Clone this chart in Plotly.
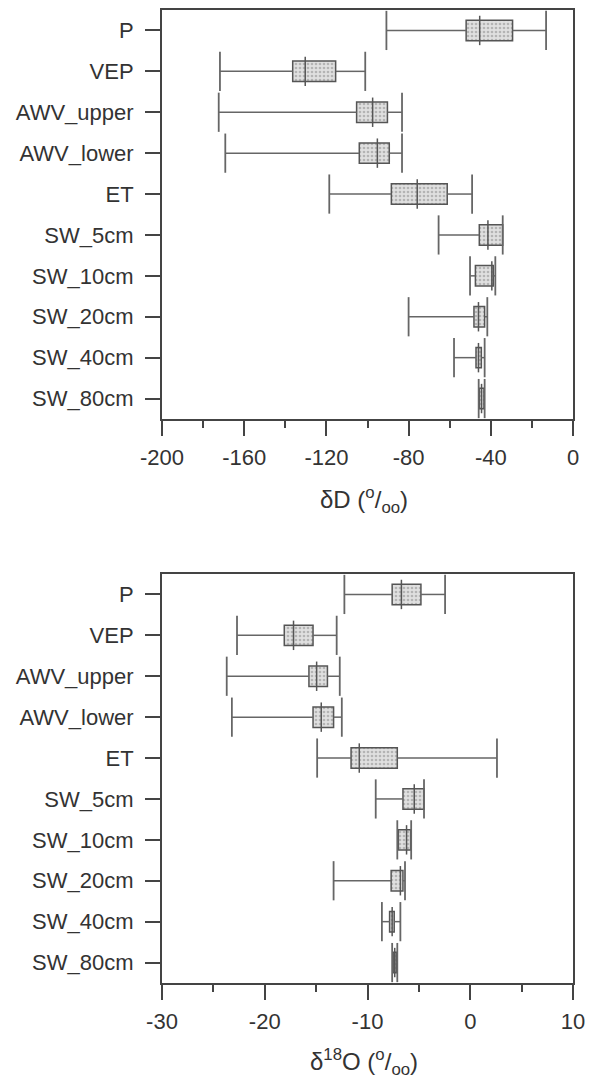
import plotly.graph_objects as go

categories = ["P", "VEP", "AWV_upper", "AWV_lower", "ET",
              "SW_5cm", "SW_10cm", "SW_20cm", "SW_40cm", "SW_80cm"]

# deltaD (per mil)
dD_low  = [-90.8, -171.8, -172.4, -169.2, -118.6, -65.4, -50.1, -80.0, -57.9, -45.9]
dD_q1   = [-52.0, -136.4, -105.3, -104.0, -88.4, -45.6, -47.5, -48.2, -47.2, -45.6]
dD_med  = [-45.4, -130.3, -97.5, -95.2, -75.8, -41.4, -39.5, -46.0, -46.0, -44.5]
dD_q3   = [-29.4, -115.5, -90.3, -89.4, -61.2, -34.2, -38.8, -43.0, -44.6, -43.3]
dD_high = [-13.1, -101.1, -83.2, -83.2, -49.1, -34.2, -37.8, -41.7, -43.0, -43.0]

# delta18O (per mil)
dO_low  = [-12.25, -22.7, -23.7, -23.2, -14.9, -9.2, -7.1, -13.3, -8.6, -7.6]
dO_q1   = [-7.6, -18.1, -15.7, -15.3, -11.6, -6.55, -7.0, -7.7, -7.85, -7.5]
dO_med  = [-6.7, -17.2, -14.95, -14.5, -10.8, -5.45, -6.2, -6.8, -7.6, -7.35]
dO_q3   = [-4.8, -15.3, -13.9, -13.3, -7.1, -4.5, -5.8, -6.55, -7.4, -7.2]
dO_high = [-2.45, -13.0, -12.7, -12.5, 2.6, -4.5, -5.75, -6.35, -6.8, -7.1]

dD_ticks = [-200, -160, -120, -80, -40, 0]
dO_ticks = [-30, -20, -10, 0, 10]

FONT = "Liberation Sans, Arial, sans-serif"
AXC = "#444444"

fig = go.Figure()


def add_panel(low, q1, med, q3, high, xa, ya):
    fig.add_trace(go.Bar(
        y=categories, x=[b - a for a, b in zip(q1, q3)], base=q1,
        orientation="h", width=0.5, xaxis=xa, yaxis=ya,
        marker=dict(color="#e0e0e0",
                    line=dict(color="#555555", width=1.5),
                    pattern=dict(shape=".", fgcolor="#888888", bgcolor="#e0e0e0",
                                 size=4, solidity=0.35)),
        showlegend=False, hoverinfo="skip"))
    wx, wy = [], []
    for c, lo, a, b, hi in zip(categories, low, q1, q3, high):
        wx += [lo, a, None, b, hi, None]
        wy += [c, c, None, c, c, None]
    fig.add_trace(go.Scatter(
        x=wx, y=wy, mode="lines", xaxis=xa, yaxis=ya,
        line=dict(color="#666666", width=1.5),
        showlegend=False, hoverinfo="skip"))
    fig.add_trace(go.Scatter(
        x=low + high, y=categories + categories, mode="markers", xaxis=xa, yaxis=ya,
        marker=dict(symbol="line-ns", size=28, color="#666666",
                    line=dict(color="#666666", width=1.8)),
        showlegend=False, hoverinfo="skip"))
    fig.add_trace(go.Scatter(
        x=med, y=categories, mode="markers", xaxis=xa, yaxis=ya,
        marker=dict(symbol="line-ns", size=21, color="#555555",
                    line=dict(color="#555555", width=1.5)),
        showlegend=False, hoverinfo="skip"))


add_panel(dD_low, dD_q1, dD_med, dD_q3, dD_high, "x", "y")
add_panel(dO_low, dO_q1, dO_med, dO_q3, dO_high, "x2", "y2")

xdom = [162 / 589, 573 / 589]


def xaxis_cfg(rng, ticks, minor_dt, anchor):
    return dict(
        domain=xdom, range=rng, tickmode="array", tickvals=ticks,
        ticktext=[str(t) for t in ticks], anchor=anchor,
        ticks="outside", ticklen=15, tickwidth=1.6, tickcolor=AXC,
        showline=True, linecolor=AXC, linewidth=2, mirror=True,
        showgrid=False, zeroline=False, ticklabelstandoff=3,
        minor=dict(dtick=minor_dt, ticks="outside", ticklen=7, tickwidth=1.6,
                   tickcolor=AXC, showgrid=False),
        tickfont=dict(family=FONT, size=22, color="#333333"),
        automargin=False)


def yaxis_cfg(dom, anchor):
    return dict(
        domain=dom, type="category", categoryorder="array", categoryarray=categories,
        range=[9.5, -0.5], anchor=anchor,
        ticks="outside", ticklen=15, tickwidth=1.6, tickcolor=AXC,
        showline=True, linecolor=AXC, linewidth=2, mirror=True,
        showgrid=False, zeroline=False, ticklabelstandoff=7,
        tickfont=dict(family=FONT, size=22, color="#333333"),
        automargin=False)


fig.update_layout(
    width=589, height=1080,
    margin=dict(l=0, r=0, t=0, b=0),
    paper_bgcolor="white", plot_bgcolor="white",
    xaxis=xaxis_cfg([-200, 0], dD_ticks, 20, "y"),
    yaxis=yaxis_cfg([1 - 419 / 1080, 1 - 10 / 1080], "x"),
    xaxis2=xaxis_cfg([-30, 10], dO_ticks, 5, "y2"),
    yaxis2=yaxis_cfg([1 - 983 / 1080, 1 - 574 / 1080], "x2"),
    showlegend=False,
    annotations=[
        dict(text="δD (<sup>o</sup>/<sub>oo</sub>)", xref="paper", yref="paper",
             x=364 / 589, y=1 - 500 / 1080, xanchor="center", yanchor="middle",
             showarrow=False, font=dict(family=FONT, size=24, color="#333333")),
        dict(text="δ<sup>18</sup>O (<sup>o</sup>/<sub>oo</sub>)", xref="paper", yref="paper",
             x=364 / 589, y=1 - 1062 / 1080, xanchor="center", yanchor="middle",
             showarrow=False, font=dict(family=FONT, size=24, color="#333333")),
    ],
)

fig.write_html("out.html")
